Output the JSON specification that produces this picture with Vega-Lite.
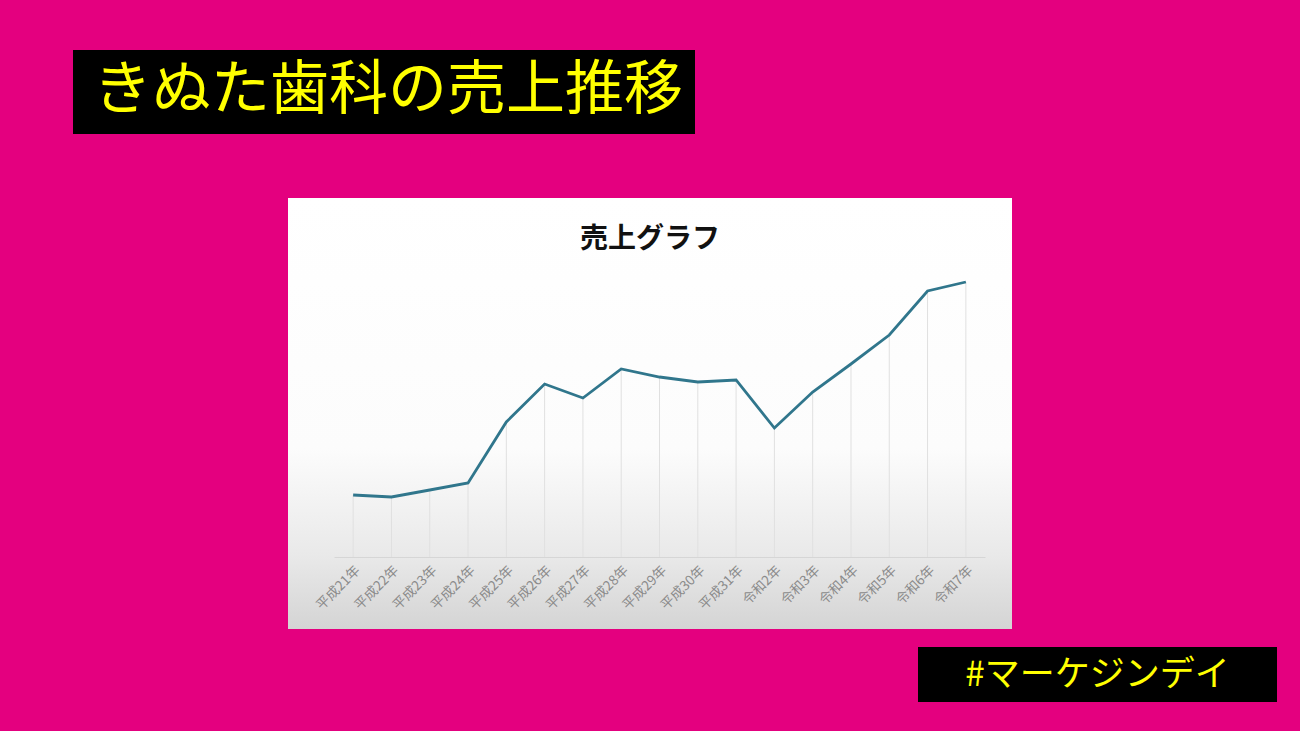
{
  "$schema": "https://vega.github.io/schema/vega-lite/v6.json",
  "background": "#E4007F",
  "padding": {"left": 0, "top": 0, "right": 23, "bottom": 29},
  "config": {"view": {"stroke": null}, "concat": {"spacing": 0}},
  "datasets": {
    "sales": [
      {"year": "平成21年", "sales": 62},
      {"year": "平成22年", "sales": 60},
      {"year": "平成23年", "sales": 67},
      {"year": "平成24年", "sales": 74},
      {"year": "平成25年", "sales": 135},
      {"year": "平成26年", "sales": 173},
      {"year": "平成27年", "sales": 159},
      {"year": "平成28年", "sales": 188},
      {"year": "平成29年", "sales": 180},
      {"year": "平成30年", "sales": 175},
      {"year": "平成31年", "sales": 177},
      {"year": "令和2年", "sales": 129},
      {"year": "令和3年", "sales": 165},
      {"year": "令和4年", "sales": 193},
      {"year": "令和5年", "sales": 222},
      {"year": "令和6年", "sales": 266},
      {"year": "令和7年", "sales": 275}
    ],
    "one": [{}]
  },
  "vconcat": [
    {"width": 1, "height": 50, "data": {"name": "one"}, "mark": {"type": "text", "text": ""}},
    {
      "hconcat": [
        {"width": 73, "height": 84, "data": {"name": "one"}, "mark": {"type": "text", "text": ""}},
        {
          "width": 622, "height": 84,
          "view": {"fill": "#000000", "stroke": null},
          "data": {"name": "one"},
          "mark": {"type": "text", "text": "きぬた歯科の売上推移", "font": "Noto Sans CJK JP", "fontSize": 59, "color": "#FFFF00", "dx": 4, "dy": -1}
        }
      ]
    },
    {"width": 1, "height": 64, "data": {"name": "one"}, "mark": {"type": "text", "text": ""}},
    {
      "hconcat": [
        {"width": 288, "height": 431, "data": {"name": "one"}, "mark": {"type": "text", "text": ""}},
        {
          "width": 724, "height": 431,
          "view": {
            "stroke": null,
            "fill": {
              "gradient": "linear", "x1": 0, "y1": 0, "x2": 0, "y2": 1,
              "stops": [
                {"offset": 0, "color": "#ffffff"},
                {"offset": 0.58, "color": "#fcfcfc"},
                {"offset": 0.83, "color": "#e9e9e9"},
                {"offset": 1, "color": "#d4d4d4"}
              ]
            }
          },
          "data": {"name": "sales"},
          "layer": [
            {
              "mark": {"type": "rule", "color": "#e0e0e0", "strokeWidth": 1},
              "encoding": {
                "x": {
                  "field": "year", "type": "nominal", "sort": null,
                  "scale": {"type": "band", "paddingInner": 0, "paddingOuter": 0, "range": [46, 697]},
                  "axis": {
                    "orient": "bottom", "offset": -72, "title": null,
                    "domainColor": "#d6d6d6", "ticks": false, "grid": false,
                    "labelAngle": -45, "labelAlign": "right", "labelBaseline": "top",
                    "labelColor": "#8a8a8a", "labelFontSize": 13.5, "labelFont": "Noto Sans CJK JP",
                    "labelPadding": 6
                  }
                },
                "y": {"field": "sales", "type": "quantitative", "scale": {"domain": [-72, 359], "nice": false, "zero": false}, "axis": null},
                "y2": {"datum": 0}
              }
            },
            {
              "mark": {"type": "line", "color": "#30768c", "strokeWidth": 2.8},
              "encoding": {
                "x": {"field": "year", "type": "nominal", "sort": null},
                "y": {"field": "sales", "type": "quantitative"}
              }
            },
            {
              "data": {"name": "one"},
              "mark": {"type": "text", "text": "売上グラフ", "font": "Noto Sans CJK JP", "fontWeight": "bold", "fontSize": 28, "color": "#111111"},
              "encoding": {
                "y": {"datum": 317, "type": "quantitative"}
              }
            }
          ]
        }
      ]
    },
    {"width": 1, "height": 18, "data": {"name": "one"}, "mark": {"type": "text", "text": ""}},
    {
      "hconcat": [
        {"width": 918, "height": 55, "data": {"name": "one"}, "mark": {"type": "text", "text": ""}},
        {
          "width": 359, "height": 55,
          "view": {"fill": "#000000", "stroke": null},
          "data": {"name": "one"},
          "mark": {"type": "text", "text": "#マーケジンデイ", "font": "Noto Sans CJK JP", "fontSize": 35, "color": "#FFFF00"}
        }
      ]
    }
  ]
}
